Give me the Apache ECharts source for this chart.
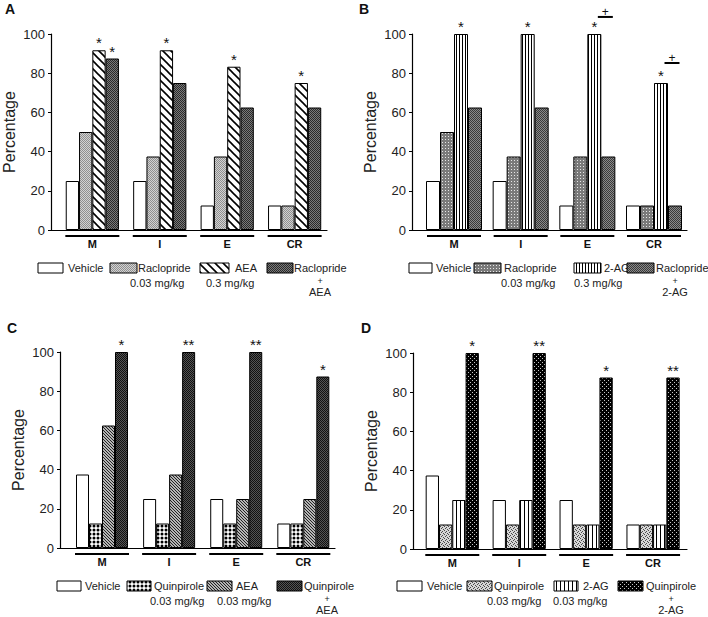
<!DOCTYPE html>
<html>
<head>
<meta charset="utf-8">
<script src="https://cdn.jsdelivr.net/npm/echarts@6/dist/echarts.min.js"></script>
<style>
html,body{margin:0;padding:0;background:#fff;}
#chart{width:708px;height:617px;}
</style>
</head>
<body>
<div id="chart"></div>
<script>
// ---------- DATA ----------
const categories = ['M', 'I', 'E', 'CR'];
const yTicks = [0, 20, 40, 60, 80, 100];

// Panel A
const aVehicle = [25, 25, 12.5, 12.5];
const aRaclopride = [50, 37.5, 37.5, 12.5];
const aAEA = [91.7, 91.7, 83.3, 75];
const aRacloprideAEA = [87.5, 75, 62.5, 62.5];
const aStarsAEA = ['*', '*', '*', '*'];
const aStarsRacloprideAEA = ['*', '', '', ''];

// Panel B
const bVehicle = [25, 25, 12.5, 12.5];
const bRaclopride = [50, 37.5, 37.5, 12.5];
const b2AG = [100, 100, 100, 75];
const bRaclopride2AG = [62.5, 62.5, 37.5, 12.5];
const bStars2AG = ['*', '*', '*', '*'];
const bPlusLevel = [null, null, 108.7, 85.2];

// Panel C
const cVehicle = [37.5, 25, 25, 12.5];
const cQuinpirole = [12.5, 12.5, 12.5, 12.5];
const cAEA = [62.5, 37.5, 25, 25];
const cQuinpiroleAEA = [100, 100, 100, 87.5];
const cStarsQuinpiroleAEA = ['*', '**', '**', '*'];

// Panel D
const dVehicle = [37.5, 25, 25, 12.5];
const dQuinpirole = [12.5, 12.5, 12.5, 12.5];
const d2AG = [25, 25, 12.5, 12.5];
const dQuinpirole2AG = [100, 100, 87.5, 87.5];
const dStarsQuinpirole2AG = ['*', '**', '*', '**'];

const noStars = ['', '', '', ''];

// ---------- PATTERNS ----------
function tile(w, h, draw) {
  const c = document.createElement('canvas');
  c.width = w; c.height = h;
  const g = c.getContext('2d');
  draw(g, w, h);
  return c;
}
function pix(rows, pal) {
  return tile(rows[0].length, rows.length, (g) => {
    rows.forEach((r, y) => { for (let x = 0; x < r.length; x++) { g.fillStyle = pal[r[x]]; g.fillRect(x, y, 1, 1); } });
  });
}
function pat(canvas) { return { image: canvas, repeat: 'repeat' }; }

const P = {
  white: '#ffffff',
  stippleA: pat(pix(['ab', 'ba'], { a: '#8f8f8f', b: '#d2d2d2' })),
  diagA: pat(tile(8, 8, (g, w, h) => {
    g.fillStyle = '#fff'; g.fillRect(0, 0, w, h);
    g.strokeStyle = '#000'; g.lineWidth = 1.6;
    [-8, 0, 8].forEach(o => { g.beginPath(); g.moveTo(o - 1, -1); g.lineTo(o + 9, 9); g.stroke(); });
  })),
  darkA: pat(pix(['ab', 'ba'], { a: '#2a2a2a', b: '#7a7a7a' })),
  grayDotB: pat(pix(['aaa', 'aba', 'aaa'], { a: '#7a7a7a', b: '#e6e6e6' })),
  vertB: pat(pix(['abb'], { a: '#000', b: '#fff' })),
  darkB: pat(pix(['ab', 'ba'], { a: '#3a3a3a', b: '#8a8a8a' })),
  dotsC: pat(tile(4, 4, (g, w, h) => {
    g.fillStyle = '#fff'; g.fillRect(0, 0, w, h);
    g.fillStyle = '#000'; g.beginPath(); g.arc(2, 2, 1.5, 0, Math.PI * 2); g.fill();
  })),
  hatchC: pat(pix(['abb', 'bab', 'bba'], { a: '#222', b: '#b5b5b5' })),
  darkC: pat(pix(['ab', 'ba'], { a: '#111', b: '#545454' })),
  stippleD: pat(pix(['abaa', 'aaab', 'baaa', 'aaba'], { a: '#d6d6d6', b: '#4a4a4a' })),
  vertD: pat(pix(['abbb'], { a: '#000', b: '#fff' })),
  blackD: pat(pix(['wbbb', 'bbbb', 'bbwb', 'bbbb'], { b: '#000', w: '#c8c8c8' }))
};

// ---------- LAYOUT ----------
const FONT = '"Liberation Sans", Arial, sans-serif';
const panels = [
  { grid: { left: 50, top: 34, width: 277, height: 196 }, xmin: -0.613, xmax: 3.48, bw: 13.3 },
  { grid: { left: 412, top: 34, width: 275, height: 196 }, xmin: -0.63, xmax: 3.495, bw: 14 },
  { grid: { left: 60, top: 352, width: 275, height: 196 }, xmin: -0.626, xmax: 3.472, bw: 13 },
  { grid: { left: 413, top: 353, width: 274, height: 196 }, xmin: -0.587, xmax: 3.507, bw: 13.3 }
];

const seriesDefs = [
  [['Vehicle', aVehicle, P.white, noStars], ['Raclopride 0.03 mg/kg', aRaclopride, P.stippleA, noStars],
   ['AEA 0.3 mg/kg', aAEA, P.diagA, aStarsAEA], ['Raclopride + AEA', aRacloprideAEA, P.darkA, aStarsRacloprideAEA]],
  [['Vehicle', bVehicle, P.white, noStars], ['Raclopride 0.03 mg/kg', bRaclopride, P.grayDotB, noStars],
   ['2-AG 0.3 mg/kg', b2AG, P.vertB, bStars2AG], ['Raclopride + 2-AG', bRaclopride2AG, P.darkB, noStars]],
  [['Vehicle', cVehicle, P.white, noStars], ['Quinpirole 0.03 mg/kg', cQuinpirole, P.dotsC, noStars],
   ['AEA 0.03 mg/kg', cAEA, P.hatchC, noStars], ['Quinpirole + AEA', cQuinpiroleAEA, P.darkC, cStarsQuinpiroleAEA]],
  [['Vehicle', dVehicle, P.white, noStars], ['Quinpirole 0.03 mg/kg', dQuinpirole, P.stippleD, noStars],
   ['2-AG 0.03 mg/kg', d2AG, P.vertD, noStars], ['Quinpirole + 2-AG', dQuinpirole2AG, P.blackD, dStarsQuinpirole2AG]]
];

const grids = [], xAxes = [], yAxes = [], series = [];
panels.forEach((p, k) => {
  grids.push(p.grid);
  xAxes.push({
    type: 'value', gridIndex: k, min: p.xmin, max: p.xmax,
    axisLine: { show: true, onZero: false, lineStyle: { color: '#000', width: 1.2 } },
    axisTick: { show: false }, axisLabel: { show: false }, splitLine: { show: false }
  });
  yAxes.push({
    type: 'value', gridIndex: k, min: yTicks[0], max: yTicks[yTicks.length - 1], interval: yTicks[1] - yTicks[0],
    name: 'Percentage', nameLocation: 'middle', nameGap: 34,
    nameTextStyle: { fontSize: 16, color: '#222', fontFamily: FONT },
    axisLine: { show: true, onZero: false, lineStyle: { color: '#000', width: 1.2 } },
    axisTick: { show: true, inside: false, length: 3, lineStyle: { color: '#000' } },
    axisLabel: { fontSize: 13, color: '#222', fontFamily: FONT, margin: 6 },
    splitLine: { show: false }
  });
  seriesDefs[k].forEach(([name, vals, color, stars]) => {
    series.push({
      type: 'bar', name, xAxisIndex: k, yAxisIndex: k,
      data: vals.map((v, i) => [i, v]),
      barWidth: p.bw, barGap: '0%',
      itemStyle: { color, borderColor: '#000', borderWidth: 1 },
      label: { show: true, position: 'top', distance: 0, color: '#111', fontSize: 15, fontFamily: FONT,
               formatter: (q) => stars[q.dataIndex] },
      silent: true
    });
  });
  // category underline + label
  series.push({
    type: 'custom', xAxisIndex: k, yAxisIndex: k, clip: false, silent: true,
    data: categories.map((c, i) => [i, 0]),
    renderItem: (params, api) => {
      const pt = api.coord([api.value(0), 0]);
      return { type: 'group', children: [
        { type: 'line', shape: { x1: pt[0] - 27, y1: pt[1] + 6, x2: pt[0] + 27, y2: pt[1] + 6 }, style: { stroke: '#000', lineWidth: 2 } },
        { type: 'text', style: { text: categories[params.dataIndex], x: pt[0], y: pt[1] + 13.5, align: 'center', verticalAlign: 'middle',
          font: 'bold 11px ' + FONT, fill: '#111' } }
      ] };
    }
  });
});

// "+" annotations in panel B
series.push({
  type: 'custom', xAxisIndex: 1, yAxisIndex: 1, clip: false, silent: true,
  data: bPlusLevel.map((v, i) => v == null ? null : [i, v]).filter(d => d),
  renderItem: (params, api) => {
    const pt = api.coord([api.value(0), api.value(1)]);
    const bw = panels[1].bw;
    const cx = pt[0] + bw + 4;
    return { type: 'group', children: [
      { type: 'line', shape: { x1: cx - 7.5, y1: pt[1], x2: cx + 7.5, y2: pt[1] }, style: { stroke: '#000', lineWidth: 2 } },
      { type: 'text', style: { text: '+', x: cx, y: pt[1] - 5, align: 'center', verticalAlign: 'middle', font: '12px ' + FONT, fill: '#111' } }
    ] };
  }
});

// ---------- LEGENDS & LETTERS (graphic) ----------
const graphic = [];
function letter(t, x, y) {
  graphic.push({ type: 'text', left: x, top: y, style: { text: t, font: 'bold 14px ' + FONT, fill: '#111' } });
}
letter('A', 5, 2); letter('B', 359, 2); letter('C', 7, 321); letter('D', 361, 321);

function txt(t, x, y, align, size) {
  graphic.push({ type: 'text', x, y, style: { text: t, x: 0, y: 0, align: align || 'left', verticalAlign: 'middle', font: (size || 11) + 'px ' + FONT, fill: '#222' } });
}
function box(x, y, w, fill) {
  graphic.push({ type: 'rect', shape: { x, y: y - 5, width: w, height: 10 }, style: { fill, stroke: '#000', lineWidth: 1 } });
}
function legend(L, items) {
  items.forEach(it => {
    box(it.bx, L, it.bw, it.fill);
    txt(it.t1, it.tx, L);
    if (it.t2) txt(it.t2, it.t2x, L + 15);
    if (it.plus) { txt('+', it.plus, L + 12.5, 'center', 9); txt(it.t3, it.plus, L + 24, 'center'); }
  });
}
legend(268, [
  { bx: 38, bw: 25, fill: P.white, t1: 'Vehicle', tx: 68 },
  { bx: 110, bw: 27, fill: P.stippleA, t1: 'Raclopride', tx: 138, t2: '0.03 mg/kg', t2x: 130 },
  { bx: 200, bw: 29, fill: P.diagA, t1: 'AEA', tx: 235, t2: '0.3 mg/kg', t2x: 206 },
  { bx: 267, bw: 26, fill: P.darkA, t1: 'Raclopride', tx: 294, plus: 320, t3: 'AEA' }
]);
legend(268, [
  { bx: 409, bw: 23, fill: P.white, t1: 'Vehicle', tx: 436 },
  { bx: 474, bw: 27, fill: P.grayDotB, t1: 'Raclopride', tx: 504, t2: '0.03 mg/kg', t2x: 501 },
  { bx: 574, bw: 27, fill: P.vertB, t1: '2-AG', tx: 604, t2: '0.3 mg/kg', t2x: 574 },
  { bx: 627, bw: 27, fill: P.darkB, t1: 'Raclopride', tx: 656, plus: 675, t3: '2-AG' }
]);
legend(586, [
  { bx: 57, bw: 24, fill: P.white, t1: 'Vehicle', tx: 85 },
  { bx: 127, bw: 24, fill: P.dotsC, t1: 'Quinpirole', tx: 154, t2: '0.03 mg/kg', t2x: 150 },
  { bx: 207, bw: 25, fill: P.hatchC, t1: 'AEA', tx: 236, t2: '0.03 mg/kg', t2x: 217 },
  { bx: 277, bw: 25, fill: P.darkC, t1: 'Quinpirole', tx: 304, plus: 327, t3: 'AEA' }
]);
legend(586, [
  { bx: 397, bw: 25, fill: P.white, t1: 'Vehicle', tx: 427 },
  { bx: 467, bw: 25, fill: P.stippleD, t1: 'Quinpirole', tx: 494, t2: '0.03 mg/kg', t2x: 487 },
  { bx: 554, bw: 24, fill: P.vertD, t1: '2-AG', tx: 583, t2: '0.03 mg/kg', t2x: 553 },
  { bx: 618, bw: 25, fill: P.blackD, t1: 'Quinpirole', tx: 646, plus: 671, t3: '2-AG' }
]);

const chart = echarts.init(document.getElementById('chart'), null, { renderer: 'svg' });
chart.setOption({
  animation: false,
  backgroundColor: '#fff',
  grid: grids, xAxis: xAxes, yAxis: yAxes, series, graphic
});
</script>
</body>
</html>
